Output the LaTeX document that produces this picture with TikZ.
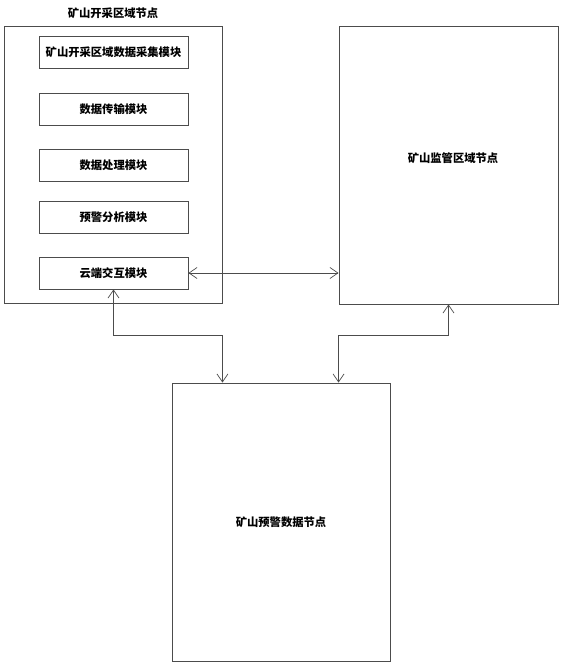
\documentclass[tikz,border=0pt]{standalone}
\usepackage{fontspec}
\setmainfont{Noto Sans CJK SC}
\usetikzlibrary{arrows.meta}

\begin{document}
\begin{tikzpicture}[x=1pt, y=-1pt, font=\fontsize{11.3}{13}\selectfont\bfseries,
    box/.style={rectangle, draw=black!70, line width=0.9pt, inner sep=0pt},
    mod/.style={box, minimum width=149pt, minimum height=32pt},
    node/.style={box, minimum width=218pt, minimum height=278pt},
    arr/.style={draw=black!70, line width=0.7pt, {Straight Barb[length=8pt, width=11pt]}-{Straight Barb[length=8pt, width=11pt]}}]
    \useasboundingbox (0,0) rectangle (566,669);

    \node[node, minimum height=277pt] (mine) at (113,164.5) {};
    \node (title) at (113,13) {矿山开采区域节点};
    \node[mod] (m1) at (113.5,52.5) {矿山开采区域数据采集模块};
    \node[mod] (m2) at (113.5,109) {数据传输模块};
    \node[mod] (m3) at (113.5,165.5) {数据处理模块};
    \node[mod] (m4) at (113.5,217.5) {预警分析模块};
    \node[mod] (m5) at (113.5,273) {云端交互模块};

    \node[node, minimum width=219pt] (sup) at (448.5,165) {};
    \node (suptext) at (453,158) {矿山监管区域节点};
    \node[node] (warn) at (281,522) {矿山预警数据节点};

    \draw[arr] (m5.east) -- (m5.east -| sup.west);
    \draw[arr] (m5.south) -- ++(0,46) -| (mine.east |- warn.north);
    \draw[arr] (sup.south) -- ++(0,31) -| (sup.west |- warn.north);
  \end{tikzpicture}
\end{document}
